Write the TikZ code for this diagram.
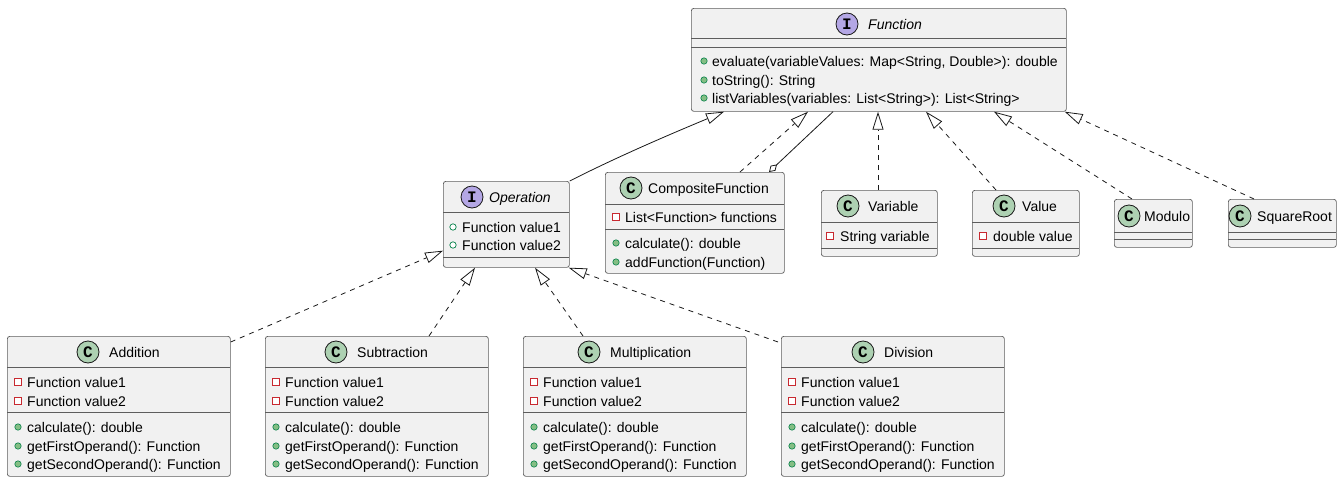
\documentclass[tikz,border=0pt]{standalone}
\usepackage{fontspec}
\setmainfont{Liberation Sans}
\newfontfamily\spotfont{Liberation Mono}
\usetikzlibrary{arrows.meta,calc}
\definecolor{boxfill}{HTML}{F1F1F1}
\definecolor{boxline}{HTML}{181818}
\definecolor{classspot}{HTML}{ADD1B2}
\definecolor{ifacespot}{HTML}{B4A7E5}
\definecolor{pubfill}{HTML}{84BE84}
\definecolor{publine}{HTML}{038048}
\definecolor{privline}{HTML}{C82930}
\newcounter{umlln}
\tikzset{
  umlbox/.style={draw=boxline!70, fill=boxfill, line width=0.7pt, rounded corners=2.5pt, inner sep=0pt, anchor=north west},
  sepline/.style={draw=boxline!70, line width=0.7pt},
  txt/.style={anchor=west, inner sep=0pt, font=\fontsize{14}{16}\selectfont, text height=10.5pt, text depth=0.5pt},
  spotletter/.style={inner sep=0pt, font=\spotfont\bfseries\fontsize{16}{16}\selectfont},
  conn/.style={draw=black!90, line width=0.8pt},
  realize/.style={conn, dash pattern=on 5pt off 5pt, -{Triangle[open, length=18pt, width=11pt, fill=white]}},
  inherit/.style={conn, -{Triangle[open, length=18pt, width=11pt, fill=white]}},
  aggr/.style={conn, {Diamond[open, length=11pt, width=7pt, fill=white]}-},
}
% title: spot x, text x, y, letter, colour, text
\newcommand{\umlTitle}[6]{%
  \stepcounter{umlln}%
  \draw[draw=boxline, line width=0.8pt, fill=#5] (#1,#3) circle[radius=11pt];
  \node[spotletter] (s\theumlln) at (#1,#3) {#4};
  \node[txt] (t\theumlln) at (#2,#3) {#6};
}
% public method line: icon x, text x, y, text
\newcommand{\umlPubM}[4]{%
  \stepcounter{umlln}%
  \draw[draw=publine, line width=0.6pt, fill=pubfill] (#1,#3) circle[radius=3.2pt];
  \node[txt] (t\theumlln) at (#2,#3) {#4};
}
% public field (hollow circle)
\newcommand{\umlPubF}[4]{%
  \stepcounter{umlln}%
  \draw[draw=publine, line width=0.7pt, fill=white] (#1,#3) circle[radius=3.2pt];
  \node[txt] (t\theumlln) at (#2,#3) {#4};
}
% private field (hollow square)
\newcommand{\umlPriv}[4]{%
  \stepcounter{umlln}%
  \draw[draw=privline, line width=0.7pt, fill=white] ($(#1,#3)+(-3.3,-3.3)$) rectangle ($(#1,#3)+(3.3,3.3)$);
  \node[txt] (t\theumlln) at (#2,#3) {#4};
}
\newcommand{\umlSep}[3]{\draw[sepline] (#1,#3) -- (#2,#3);}
\begin{document}
\begin{tikzpicture}[x=1pt,y=-1pt]
\useasboundingbox[fill=white] (0,0) rectangle (1341,482);

% ---------- Function ----------
\node[umlbox, minimum width=375pt, minimum height=103pt] (func) at (691,8) {};
\umlTitle{847}{868}{24}{I}{ifacespot}{\itshape Function}
\umlSep{691}{1066}{38}
\umlSep{691}{1066}{47}
\umlPubM{704}{712}{61}{evaluate(variableValues: Map<String, Double>): double}
\umlPubM{704}{712}{80}{toString(): String}
\umlPubM{704}{712}{98}{listVariables(variables: List<String>): List<String>}

% ---------- Operation ----------
\node[umlbox, minimum width=126pt, minimum height=86pt] (oper) at (443,181) {};
\umlTitle{472}{489}{197}{I}{ifacespot}{\itshape Operation}
\umlSep{443}{569}{212}
\umlPubF{453}{462}{227}{Function value1}
\umlPubF{453}{462}{245}{Function value2}
\umlSep{443}{569}{257}

% ---------- CompositeFunction ----------
\node[umlbox, minimum width=179pt, minimum height=101pt] (comp) at (605,172) {};
\umlTitle{631}{648}{188}{C}{classspot}{CompositeFunction}
\umlSep{605}{784}{204}
\umlPriv{616}{625}{217}{List<Function> functions}
\umlSep{605}{784}{229}
\umlPubM{616}{625}{243}{calculate(): double}
\umlPubM{616}{625}{262}{addFunction(Function)}

% ---------- Variable ----------
\node[umlbox, minimum width=116pt, minimum height=66pt] (var) at (821,190) {};
\umlTitle{848}{868}{206}{C}{classspot}{Variable}
\umlSep{821}{937}{222}
\umlPriv{830}{840}{236}{String variable}
\umlSep{821}{937}{248}

% ---------- Value ----------
\node[umlbox, minimum width=107pt, minimum height=66pt] (val) at (972,190) {};
\umlTitle{1004}{1022}{206}{C}{classspot}{Value}
\umlSep{972}{1079}{222}
\umlPriv{983}{993}{236}{double value}
\umlSep{972}{1079}{248}

% ---------- Modulo ----------
\node[umlbox, minimum width=78pt, minimum height=48pt] (modu) at (1114,199) {};
\umlTitle{1129}{1144}{216}{C}{classspot}{Modulo}
\umlSep{1114}{1192}{232}
\umlSep{1114}{1192}{239}

% ---------- SquareRoot ----------
\node[umlbox, minimum width=108pt, minimum height=48pt] (sqr) at (1228,199) {};
\umlTitle{1240}{1257}{216}{C}{classspot}{SquareRoot}
\umlSep{1228}{1336}{232}
\umlSep{1228}{1336}{239}

% ---------- Addition ----------
\node[umlbox, minimum width=223pt, minimum height=140pt] (add) at (7,336) {};
\umlTitle{88}{109}{352}{C}{classspot}{Addition}
\umlSep{7}{230}{367}
\umlPriv{18}{27}{382}{Function value1}
\umlPriv{18}{27}{401}{Function value2}
\umlSep{7}{230}{412}
\umlPubM{18}{27}{427}{calculate(): double}
\umlPubM{18}{27}{446}{getFirstOperand(): Function}
\umlPubM{18}{27}{464}{getSecondOperand(): Function}

% ---------- Subtraction ----------
\node[umlbox, minimum width=223pt, minimum height=140pt] (sub) at (265,336) {};
\umlTitle{336}{357}{352}{C}{classspot}{Subtraction}
\umlSep{265}{488}{367}
\umlPriv{276}{285}{382}{Function value1}
\umlPriv{276}{285}{401}{Function value2}
\umlSep{265}{488}{412}
\umlPubM{276}{285}{427}{calculate(): double}
\umlPubM{276}{285}{446}{getFirstOperand(): Function}
\umlPubM{276}{285}{464}{getSecondOperand(): Function}

% ---------- Multiplication ----------
\node[umlbox, minimum width=223pt, minimum height=140pt] (mul) at (523,336) {};
\umlTitle{589}{610}{352}{C}{classspot}{Multiplication}
\umlSep{523}{746}{367}
\umlPriv{534}{543}{382}{Function value1}
\umlPriv{534}{543}{401}{Function value2}
\umlSep{523}{746}{412}
\umlPubM{534}{543}{427}{calculate(): double}
\umlPubM{534}{543}{446}{getFirstOperand(): Function}
\umlPubM{534}{543}{464}{getSecondOperand(): Function}

% ---------- Division ----------
\node[umlbox, minimum width=223pt, minimum height=140pt] (divi) at (781,336) {};
\umlTitle{863}{884}{352}{C}{classspot}{Division}
\umlSep{781}{1004}{367}
\umlPriv{792}{801}{382}{Function value1}
\umlPriv{792}{801}{401}{Function value2}
\umlSep{781}{1004}{412}
\umlPubM{792}{801}{427}{calculate(): double}
\umlPubM{792}{801}{446}{getFirstOperand(): Function}
\umlPubM{792}{801}{464}{getSecondOperand(): Function}

% ---------- connectors ----------
\draw[inherit] (oper.north east) .. controls ($(oper.north east)+(55,-28)$) and ($(func.south west)+(-5,16)$) .. ($(func.south west)+(33,0)$);
\draw[realize] ($(comp.north west)+(135,0)$) -- ($(func.south west)+(117,0)$);
\draw[aggr] ($(comp.north west)+(164,0)$) -- ($(func.south west)+(142,0)$);
\draw[realize] ($(var.north west)+(57,0)$) -- ($(func.south west)+(187,0)$);
\draw[realize] ($(val.north west)+(24,0)$) -- ($(func.south west)+(235,0)$);
\draw[realize] ($(modu.north west)+(18,0)$) -- ($(func.south west)+(303,0)$);
\draw[realize] ($(sqr.north west)+(26,0)$) -- ($(func.south east)+(-2,0)$);

\draw[realize] ($(add.north east)+(0,6)$) -- ($(oper.south west)+(0,-17)$);
\draw[realize] ($(sub.north west)+(164,0)$) -- ($(oper.south west)+(32,0)$);
\draw[realize] ($(mul.north west)+(60,0)$) -- ($(oper.south west)+(92,0)$);
\draw[realize] ($(divi.north west)+(-3,6)$) -- ($(oper.south east)+(-1,0)$);
\end{tikzpicture}
\end{document}
